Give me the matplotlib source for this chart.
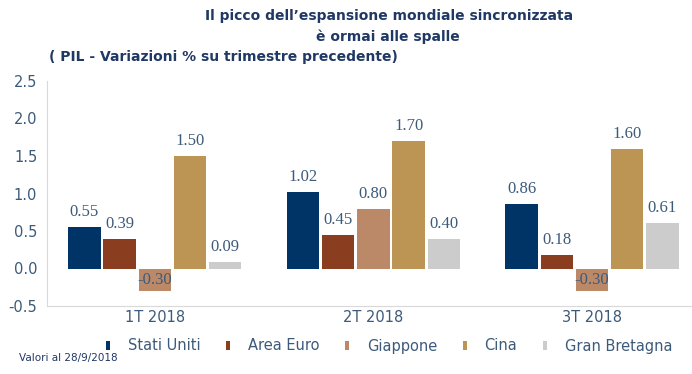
import matplotlib
matplotlib.use("Agg")
import matplotlib.pyplot as plt
from matplotlib.patches import Patch
import numpy as np

quarters = ["1T 2018", "2T 2018", "3T 2018"]
series = ["Stati Uniti", "Area Euro", "Giappone", "Cina", "Gran Bretagna"]
stati_uniti = [0.55, 1.02, 0.86]
area_euro = [0.39, 0.45, 0.18]
giappone = [-0.30, 0.80, -0.30]
cina = [1.50, 1.70, 1.60]
gran_bretagna = [0.09, 0.40, 0.61]
yticks = [-0.5, 0.0, 0.5, 1.0, 1.5, 2.0, 2.5]

colors = ["#003366", "#8B3E1F", "#BB8967", "#BC9555", "#CCCCCC"]
text_col = "#3C5A7A"
title_col = "#1F3864"
sans = ["DejaVu Sans"]

fig = plt.figure(figsize=(6.92, 3.74), dpi=100)
ax = fig.add_axes([47/692, 68/374, 645/692, 225/374])

x = np.arange(len(quarters))
pitch = 0.161
width = 0.148
data = [stati_uniti, area_euro, giappone, cina, gran_bretagna]
for i, (vals, c, name) in enumerate(zip(data, colors, series)):
    pos = x + (i - 2) * pitch
    ax.bar(pos, vals, width=width, color=c, label=name, zorder=2)
    for xp, v in zip(pos, vals):
        if v >= 0:
            ax.annotate(f"{v:.2f}", (xp, v), xytext=(0, 5), textcoords="offset points",
                        ha="center", va="bottom", fontsize=12, color=text_col,
                        family="Liberation Serif")
        else:
            ax.text(xp, v / 2, f"{v:.2f}", ha="center", va="center", fontsize=12,
                    color=text_col, family="Liberation Serif")

ax.set_xlim(-0.493, 2.457)
ax.set_ylim(-0.5, 2.5)
ax.set_yticks(yticks)
ax.set_yticklabels([f"{t:.1f}" for t in yticks], fontsize=10.5, color=text_col, family=sans)
ax.set_xticks(x)
ax.set_xticklabels(quarters, fontsize=10.5, color=text_col, family=sans)
ax.tick_params(length=0, axis="both")
ax.tick_params(axis="y", pad=7)
ax.tick_params(axis="x", pad=3)
for s in ["top", "right"]:
    ax.spines[s].set_visible(False)
ax.spines["left"].set_color("#D9D9D9")
ax.spines["bottom"].set_color("#D9D9D9")

handles = [Patch(facecolor=c, edgecolor="none") for c in colors]
leg = fig.legend(handles, series, loc="center left", bbox_to_anchor=(106/692, 1 - 346/374),
                 ncol=5, frameon=False, handlelength=0.28, handleheight=0.55,
                 handletextpad=1.2, columnspacing=1.78, borderaxespad=0, borderpad=0,
                 prop={"family": sans, "size": 10.5})
for t in leg.get_texts():
    t.set_color(text_col)

fig.text(389/692, 1 - 16/374, "Il picco dell\u2019espansione mondiale sincronizzata",
         ha="center", va="center", fontsize=10, fontweight="bold", color=title_col, family=sans)
fig.text(388/692, 1 - 37/374, "\u00e8 ormai alle spalle",
         ha="center", va="center", fontsize=10, fontweight="bold", color=title_col, family=sans)
fig.text(49/692, 1 - 57/374, "( PIL - Variazioni % su trimestre precedente)",
         ha="left", va="center", fontsize=10, fontweight="bold", color=title_col, family=sans)
fig.text(19/692, 1 - 358/374, "Valori al 28/9/2018", ha="left", va="center",
         fontsize=7.5, color=title_col, family=sans)

fig.savefig("out.png", dpi=100)
